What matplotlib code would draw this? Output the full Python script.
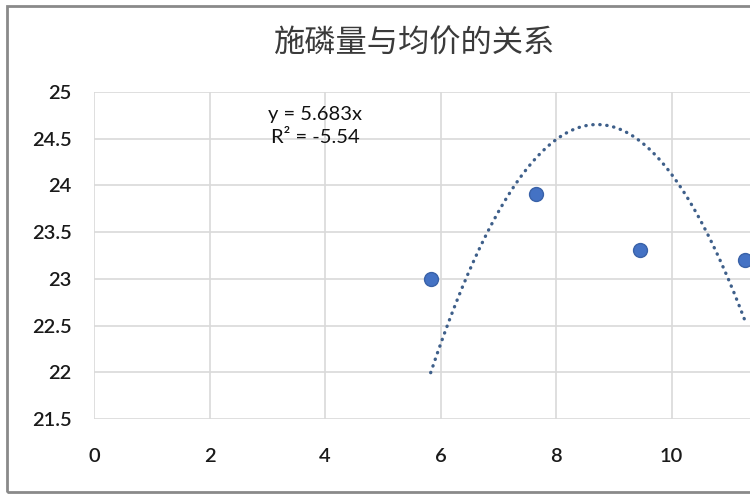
import numpy as np
import matplotlib
matplotlib.use("Agg")
import matplotlib.pyplot as plt
from matplotlib.patches import Rectangle

plt.rcParams['font.family'] = ['Lato', 'Noto Sans CJK SC', 'DejaVu Sans']

# Data
x_vals = [5.83, 7.66, 9.46, 11.27]
y_vals = [23.0, 23.91, 23.31, 23.2]
# trendline (order-2 polynomial) coefficients
trend_a = -0.32
trend_b = 5.575
trend_c = 0.37
title = "施磷量与均价的关系"
eq_label = "y = 5.683x\nR² = -5.54"
x_ticks = [0, 2, 4, 6, 8, 10]
y_ticks = [21.5, 22, 22.5, 23, 23.5, 24, 24.5, 25]

fig = plt.figure(figsize=(7.5, 5), dpi=100)
fig.patch.set_facecolor('white')

ax = fig.add_axes([94/750, 1-419/500, (787-94)/750, (419-92)/500])
ax.set_xlim(0, 12)
ax.set_ylim(21.5, 25)
ax.set_xticks(x_ticks)
ax.set_yticks(y_ticks)
ax.set_yticklabels([f"{v:g}" for v in y_ticks])
ax.grid(True, color='#d9d9d9', linewidth=1.2)
ax.set_axisbelow(True)
for s in ax.spines.values():
    s.set_visible(False)
ax.tick_params(length=0, labelsize=14.5, colors='#1a1a1a')
ax.tick_params(axis='y', pad=16)
ax.tick_params(axis='x', pad=21)
for lab in ax.get_xticklabels() + ax.get_yticklabels():
    lab.set_fontweight('semibold')

xs = np.linspace(min(x_vals), max(x_vals), 200)
ys = trend_a * xs**2 + trend_b * xs + trend_c
ax.plot(xs, ys, color='#3e5f8a', linewidth=2.4, linestyle=(0, (0.1, 2.0)),
        dash_capstyle='round', clip_on=False)
ax.scatter(x_vals, y_vals, s=100, color='#4472c4', edgecolor='#3a62a8',
           linewidth=1, zorder=3, clip_on=False)

fig.text(315/750, 1-126/500, eq_label, ha='center', va='center', fontsize=14.5,
         color='#111111', linespacing=1.45)

fig.text(415/750, 1-44/500, title, ha='center', va='center', fontsize=22.5,
         color='#3a3a3a', family=['Noto Sans CJK SC', 'DejaVu Sans'])

fig.patches.append(Rectangle((7/750, 1-492/500), 1.2, (492-6)/500,
                             transform=fig.transFigure, fill=False,
                             edgecolor='#8a8a8a', linewidth=2))

fig.savefig('out.png', dpi=100)
